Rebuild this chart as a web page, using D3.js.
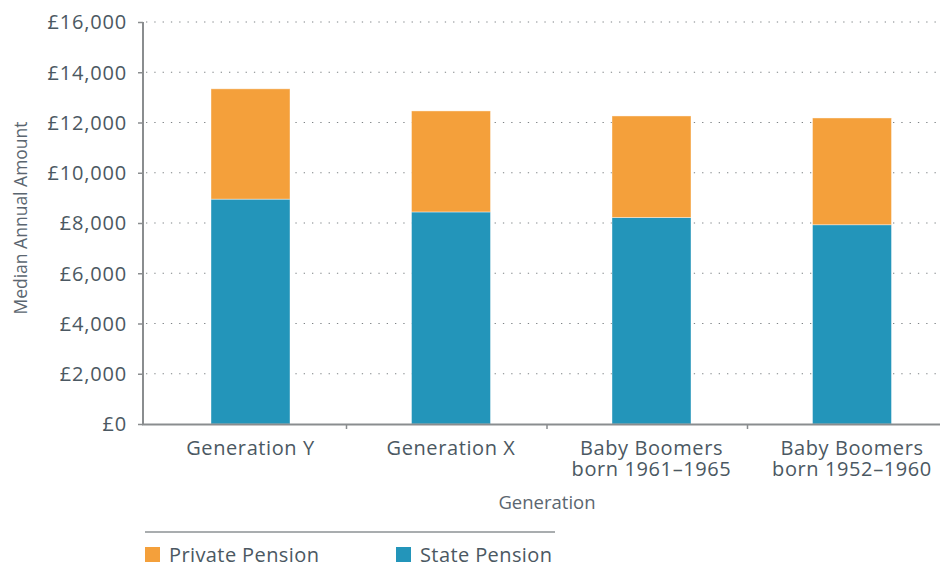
<!DOCTYPE html>
<html>
<head>
<meta charset="utf-8">
<script src="https://cdn.jsdelivr.net/npm/d3@7"></script>
<style>
  html, body { margin: 0; padding: 0; background: #fff; }
  svg { display: block; font-family: "Open Sans", sans-serif; }
</style>
</head>
<body>
<svg id="chart" width="940" height="568"></svg>
<script>
const categories = [["Generation Y"], ["Generation X"], ["Baby Boomers", "born 1961\u20131965"], ["Baby Boomers", "born 1952\u20131960"]];
const statePension = [8950, 8440, 8220, 7930];
const privatePension = [4390, 4020, 4040, 4250];
const yTicks = [0, 2000, 4000, 6000, 8000, 10000, 12000, 14000, 16000];
const seriesNames = ["Private Pension", "State Pension"];
const colors = { "State Pension": "#2395BA", "Private Pension": "#F4A03B" };

const svg = d3.select("#chart");
const ids = categories.map((c, i) => i);

const x = d3.scaleBand().domain(ids).range([146, 948]).paddingInner(0).paddingOuter(0);
const y = d3.scaleLinear().domain([0, 16000]).range([424, 22]);

const textColor = "#4b5862";
const axisColor = "#8a8d8f";
const fontFam = "'Open Sans', sans-serif";

// gridlines
svg.append("g").selectAll("line").data(yTicks.filter(d => d > 0)).join("line")
  .attr("x1", 146).attr("x2", 940)
  .attr("y1", d => y(d)).attr("y2", d => y(d))
  .attr("stroke", "#7d8285").attr("stroke-width", 1.2)
  .attr("stroke-dasharray", "1.3,7");

// stacked data
const rows = ids.map(i => ({ id: i, "State Pension": statePension[i], "Private Pension": privatePension[i] }));
const stack = d3.stack().keys(["State Pension", "Private Pension"])(rows);

const barOffset = 65, barWidth = 79;
svg.append("g").selectAll("g").data(stack).join("g")
  .attr("fill", d => colors[d.key])
  .selectAll("rect").data(d => d).join("rect")
  .attr("x", d => x(d.data.id) + barOffset)
  .attr("width", barWidth)
  .attr("y", d => y(d[1]))
  .attr("height", d => y(d[0]) - y(d[1]))
  .attr("stroke", "rgba(255,255,255,0.5)").attr("stroke-width", 0.8);

// y axis
const yAxis = d3.axisLeft(y).tickValues(yTicks).tickSize(5).tickPadding(11)
  .tickFormat(d => "\u00a3" + d3.format(",")(d));
const gy = svg.append("g").attr("transform", "translate(143,0)").call(yAxis);
gy.select(".domain").attr("stroke", axisColor).attr("stroke-width", 2).attr("d", "M0,22V425");
gy.selectAll(".tick line").attr("stroke", axisColor).attr("stroke-width", 1.5);
gy.selectAll(".tick text").attr("fill", textColor).attr("font-size", 20).attr("font-family", fontFam)
  .attr("letter-spacing", 0.8).attr("dy", "0.34em");

// x axis
svg.append("line").attr("x1", 142).attr("x2", 940).attr("y1", 424.5).attr("y2", 424.5)
  .attr("stroke", axisColor).attr("stroke-width", 2);
svg.append("g").selectAll("line").data(ids.slice(1)).join("line")
  .attr("x1", d => x(d)).attr("x2", d => x(d))
  .attr("y1", 424).attr("y2", 429)
  .attr("stroke", axisColor).attr("stroke-width", 1.5);

const xl = svg.append("g").selectAll("text").data(ids).join("text")
  .attr("x", d => x(d) + barOffset + barWidth / 2)
  .attr("y", 455)
  .attr("text-anchor", "middle")
  .attr("letter-spacing", 0.6)
  .attr("fill", textColor).attr("font-size", 20);
xl.selectAll("tspan").data(d => categories[d].map((t, j) => ({ t, j, d }))).join("tspan")
  .attr("x", e => x(e.d) + barOffset + barWidth / 2)
  .attr("dy", e => e.j === 0 ? 0 : 21)
  .text(e => e.t);

// axis titles
svg.append("text").attr("x", 547).attr("y", 509).attr("text-anchor", "middle")
  .attr("fill", "#5b6670").attr("font-size", 18.5).text("Generation");
svg.append("text").attr("transform", "translate(27,218) rotate(-90)").attr("text-anchor", "middle")
  .attr("fill", "#5b6670").attr("font-size", 17.5).text("Median Annual Amount");

// legend
svg.append("line").attr("x1", 145).attr("x2", 555).attr("y1", 532).attr("y2", 532)
  .attr("stroke", "#555c60").attr("stroke-width", 1.2);
const legX = [145, 396];
const lg = svg.append("g").selectAll("g").data(seriesNames).join("g")
  .attr("transform", (d, i) => `translate(${legX[i]},547)`);
lg.append("rect").attr("width", 15).attr("height", 15).attr("fill", d => colors[d]);
lg.append("text").attr("x", 24).attr("y", 15).attr("fill", textColor).attr("font-size", 20)
  .attr("letter-spacing", 0.4).text(d => d);
</script>
</body>
</html>
